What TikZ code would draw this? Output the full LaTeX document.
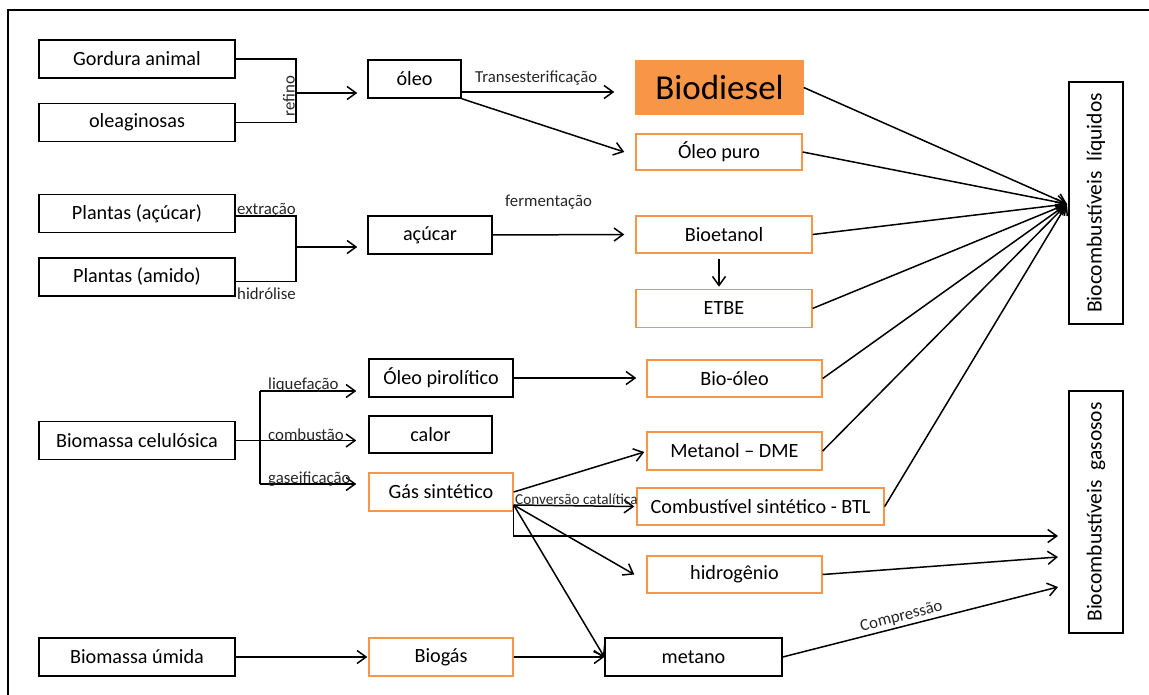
\documentclass[tikz,border=0pt]{standalone}
\usepackage{fontspec}
\setmainfont{Carlito}
\usepackage{tikz}
\usetikzlibrary{arrows.meta,positioning,calc}
\definecolor{laranja}{HTML}{F79646}
\newcommand{\fntbox}{\fontsize{20.2}{24}\selectfont}
\newcommand{\fntlbl}{\fontsize{16.8}{20}\selectfont}
\newcommand{\fntbig}{\fontsize{35}{40}\selectfont}
\newcommand{\fntvert}{\fontsize{21.5}{26}\selectfont}

\begin{document}
\begin{tikzpicture}[x=1pt,y=-1pt,
	box/.style={draw, line width=1.4pt, inner sep=0pt, minimum height=38pt, font=\fntbox},
	obox/.style={box, draw=laranja},
	lbl/.style={font=\fntlbl, inner sep=0pt, text=black!85},
	line/.style={line width=1.5pt},
	arr/.style={line, -{Straight Barb[length=9pt,width=13pt]}}]
		\useasboundingbox (0,0) rectangle (1149,695);
		\draw[line width=1.3pt] (1149,10) -- (8,10) -- (8,695);
		% Sources
		\node[box, minimum width=196pt] (Gordura) at (137,59) {Gordura animal};
		\node[box, minimum width=196pt, below=24pt of Gordura] (Oleaginosas) {oleaginosas};
		\node[box, minimum width=196pt] (PlAcucar) at (137,213.5) {Plantas (açúcar)};
		\node[box, minimum width=196pt, below=24pt of PlAcucar] (PlAmido) {Plantas (amido)};
		\node[box, minimum width=196pt] (Celulosica) at (137,440.5) {Biomassa celulósica};
		\node[box, minimum width=196pt] (Umida) at (137,657) {Biomassa úmida};
		% refino
		\node[box, minimum width=93pt] (Oleo) at (414.5,79) {óleo};
		\coordinate (Refino) at (296,93);
		\draw[line] (Gordura.east) -| (Refino) |- (Oleaginosas.east);
		\node[lbl, rotate=90, anchor=south, inner sep=1pt] (RefinoL) at ([yshift=-3pt]Refino) {refino};
		\draw[arr] (Refino) -- ([xshift=-10pt]Oleo.west |- Refino);
		% extracao / hidrolise
		\node[box, minimum width=124pt] (Acucar) at (430,235) {açúcar};
		\coordinate (Extr) at (296,247);
		\draw[line] ([yshift=-2.5pt]PlAcucar.east) -| (Extr) |- ([yshift=-4.5pt]PlAmido.east);
		\node[lbl, anchor=base west] (ExtrL) at (237,215) {extração};
		\node[lbl, anchor=base west] (HidrL) at (237,299) {hidrólise};
		\draw[arr] (Extr) -- ([xshift=-10pt]Acucar.west |- Extr);
		% Biodiesel, oleo puro
		\node[box, draw=laranja, fill=laranja, minimum width=167pt, minimum height=53pt, font=\fntbig] (Biodiesel) at (719.5,87.5) {Biodiesel};
		\node[obox, minimum width=166pt, minimum height=36pt] (OleoPuro) at (719,152) {Óleo puro};
		\draw[arr] ([yshift=-13pt]Oleo.east) -- ([xshift=-21pt,yshift=-4.5pt]Biodiesel.west);
		\node[lbl, anchor=base west] (TransL) at (475,83) {Transesterificação};
		\draw[arr] (Oleo.south east) -- ([xshift=-11pt]OleoPuro.west);
		% Bioetanol
		\node[obox, minimum width=176pt, minimum height=37pt] (Bioetanol) at (724,234.5) {Bioetanol};
		\node[obox, minimum width=176pt, below=35pt of Bioetanol] (ETBE) {ETBE};
		\draw[arr] (Acucar.east) -- ([xshift=-11pt]Bioetanol.west);
		\node[lbl, anchor=base west] (FermL) at (505,207) {fermentação};
		\draw[arr] ([xshift=-5pt,yshift=-5pt]Bioetanol.south) -- ([xshift=-5pt,yshift=2pt]ETBE.north);
		% Biomassa celulosica
		\node[box, minimum width=144pt] (Pirolitico) at (441,378) {Óleo pirolítico};
		\node[box, minimum width=123pt, minimum height=37pt] (Calor) at (430.5,434.5) {calor};
		\node[obox, minimum width=144pt] (GasSint) at (441,492) {Gás sintético};
		\coordinate (CelTop) at (260,391);
		\coordinate (CelBot) at (260,484);
		\draw[line] (CelTop) -- (CelBot);
		\draw[arr] (CelTop) -- ([xshift=-12pt]Pirolitico.west |- CelTop);
		\draw[arr] (Celulosica.east) -- ([xshift=-12pt]Calor.west |- Celulosica.east);
		\draw[arr] (CelBot) -- ([xshift=-12pt]GasSint.west |- CelBot);
		\node[lbl, anchor=base west] (LiqL) at (268,389) {liquefação};
		\node[lbl, anchor=base west] (CombL) at (268,440) {combustão};
		\node[lbl, anchor=base west] (GaseL) at (268,483) {gaseificação};
		% Products
		\node[obox, minimum width=175pt, minimum height=37pt] (BioOleo) at (734.5,378.5) {Bio-óleo};
		\node[obox, minimum width=175pt] (Metanol) at (734.5,451) {Metanol – DME};
		\node[obox, minimum width=247pt, minimum height=37pt] (Sintetico) at (760.5,506.5) {Combustível sintético - BTL};
		\node[obox, minimum width=175pt, minimum height=37pt] (Hidrogenio) at (734.5,574.5) {hidrogênio};
		\node[box, minimum width=177pt] (Metano) at (693.5,657) {metano};
		\node[obox, minimum width=144pt] (Biogas) at (441,657) {Biogás};
		\draw[arr] (Pirolitico.east) -- ([xshift=-10pt]BioOleo.west |- Pirolitico.east);
		% Gas sintetico
		\coordinate (GasJ) at ([yshift=-13pt]GasSint.east);
		\coordinate (GasA) at (1058,536);
		\draw[arr] (GasSint.east) -- ([xshift=-2pt,yshift=-1pt]Metanol.west);
		\draw[arr] (GasJ) -- ([xshift=-2pt]Sintetico.west);
		\node[lbl, anchor=base west, font=\fontsize{15.2}{18}\selectfont] (ConvL) at (515,504) {Conversão catalítica};
		\draw[arr] (GasJ) -- ([xshift=-12pt]Hidrogenio.west);
		\draw[arr] (GasJ) -- (Metano.west);
		\draw[arr] (GasJ) |- (GasA);
		\draw[arr] (Umida.east) -- ([xshift=-1pt]Biogas.west);
		\draw[arr] (Biogas.east) -- (Metano.west);
		% Biocombustiveis
		\node[box, rotate=90, minimum width=242pt, minimum height=54pt, font=\fntvert] (Liquidos) at (1096,203) {Biocombustíveis\ \ líquidos};
		\node[box, rotate=90, minimum width=242pt, minimum height=54pt, font=\fntvert] (Gasosos) at (1096,512) {Biocombustíveis\ \ gasosos};
		\coordinate (Liq) at (1067,204);
		\coordinate (GasB) at (1058,557);
		\coordinate (GasC) at (1058,587);
		\draw[arr] (Biodiesel.east) -- (Liq);
		\draw[arr] (OleoPuro.east) -- (Liq);
		\draw[arr] (Bioetanol.east) -- (Liq);
		\draw[arr] (ETBE.east) -- (Liq);
		\draw[arr] (BioOleo.east) -- (Liq);
		\draw[arr] (Metanol.east) -- (Liq);
		\draw[arr] (Sintetico.east) -- (Liq);
		\draw[arr] (Hidrogenio.east) -- (GasB);
		\draw[arr] (Metano.east) -- node[lbl, sloped, above=2pt, pos=0.44] (ComprL) {Compressão} (GasC);
	\end{tikzpicture}
\end{document}
